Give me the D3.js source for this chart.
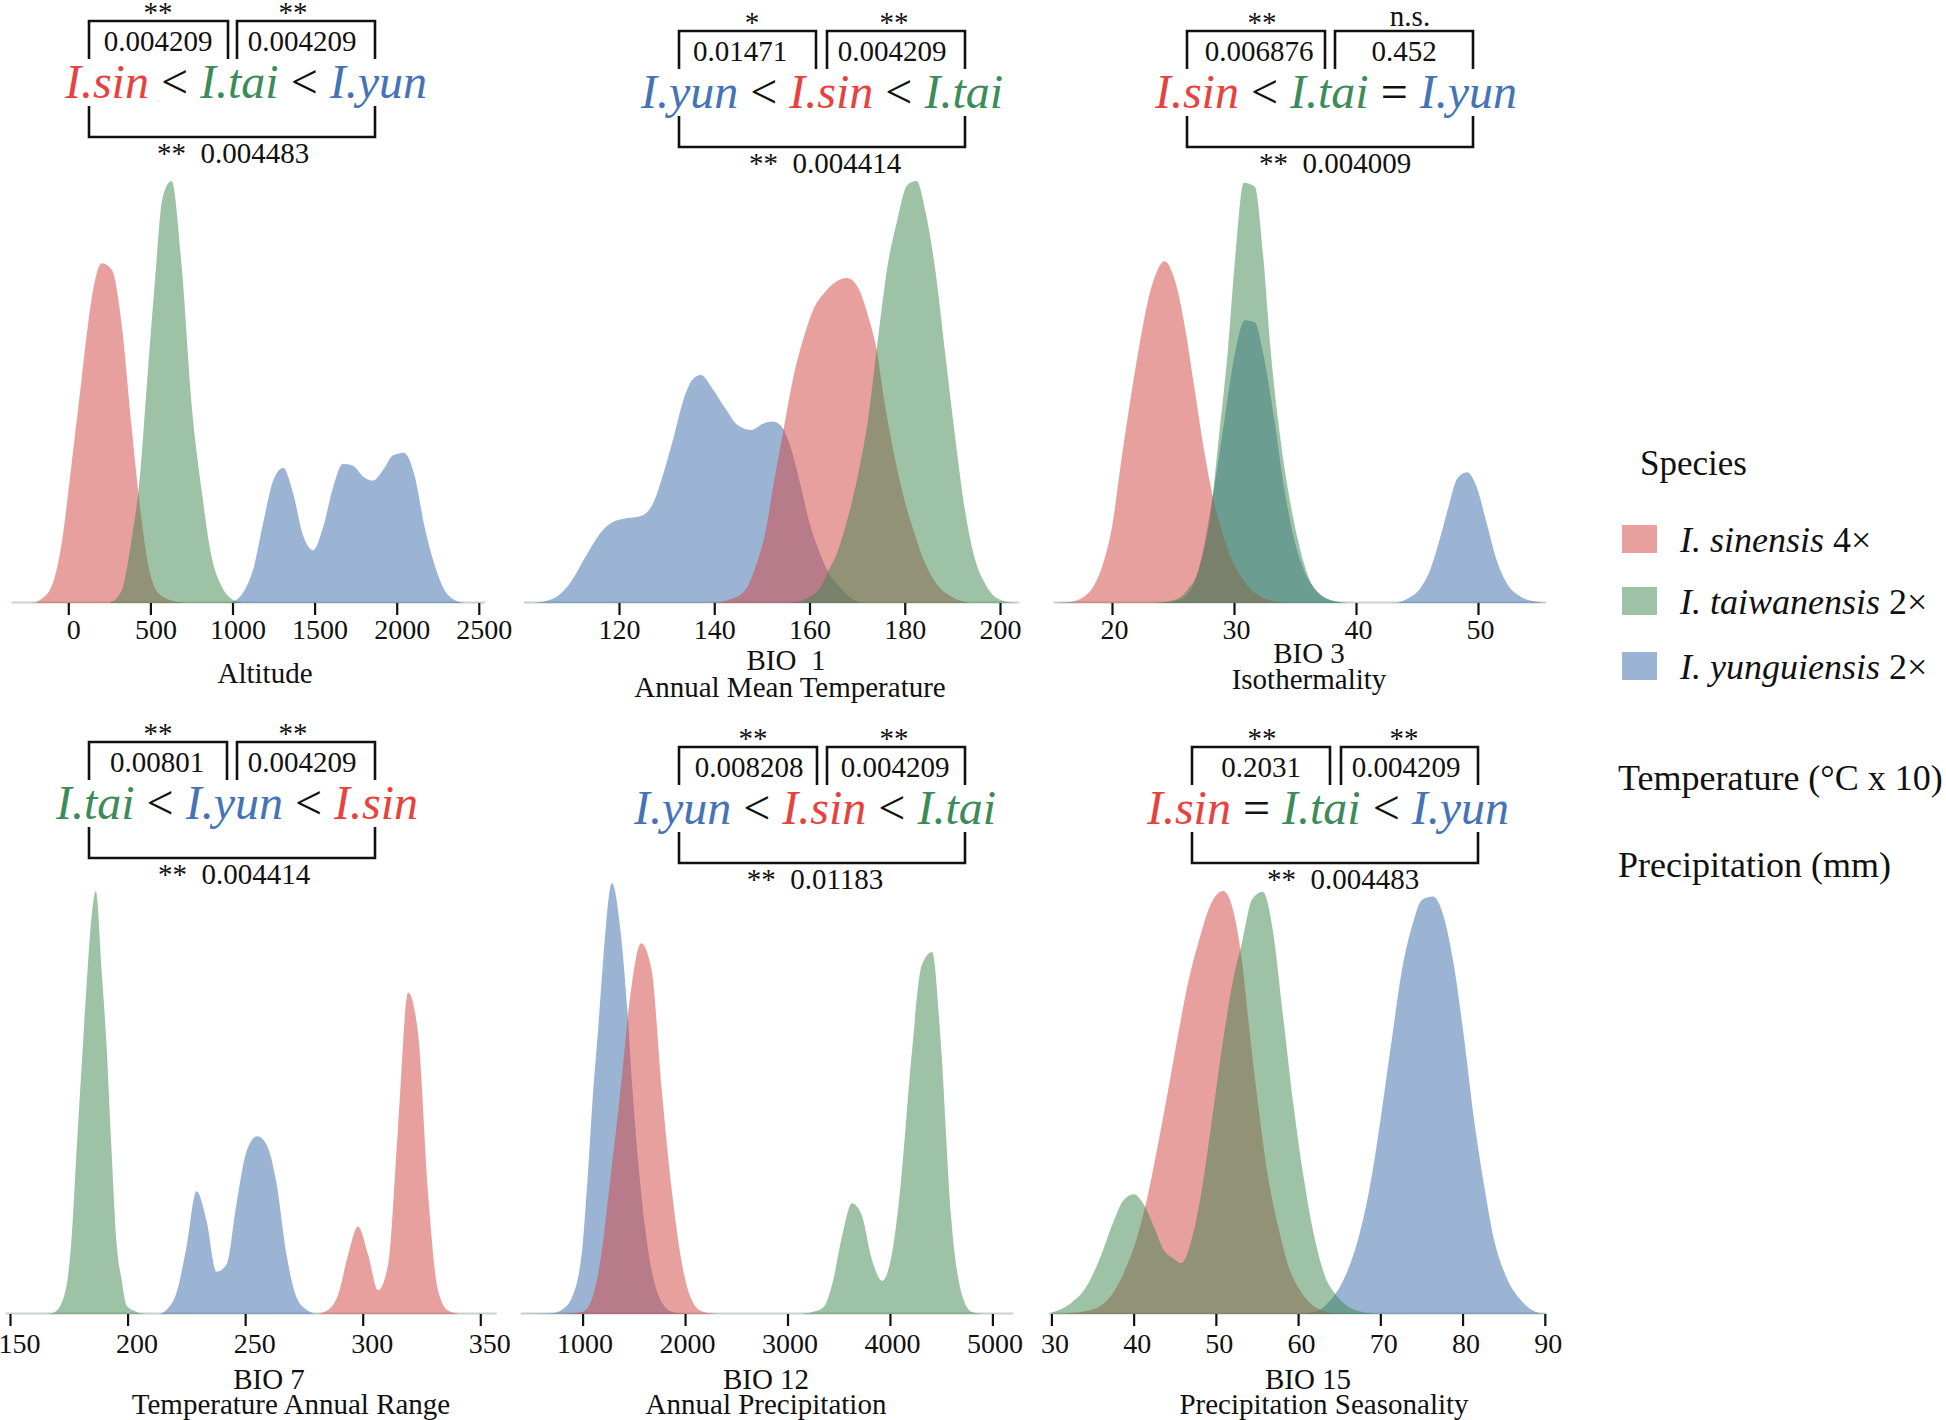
<!DOCTYPE html>
<html><head><meta charset="utf-8">
<script src="https://cdn.jsdelivr.net/npm/d3@7"></script>
<style>
html,body{margin:0;padding:0;background:#fff;}
svg text{font-family:"Liberation Serif","Times New Roman",serif;}
</style></head><body>
<svg id="chart" width="1946" height="1420" xmlns="http://www.w3.org/2000/svg"></svg>
<script>
// ---------------- DATA ----------------
const speciesAbbrev = {sin:"I.sin", tai:"I.tai", yun:"I.yun"};
const speciesKeys = ["sin","tai","yun"];
const speciesLegend = ["I. sinensis","I. taiwanensis","I. yunguiensis"];
const ploidy = ["4×","2×","2×"];
const fillColors = ["#D1413D","#3B854D","#3969A9"];
const textColors = ["#E8423F","#3D8B59","#4474B6"];

const panelTitles = [["Altitude"],["BIO  1","Annual Mean Temperature"],["BIO 3","Isothermality"],
  ["BIO 7","Temperature Annual Range"],["BIO 12","Annual Precipitation"],["BIO 15","Precipitation Seasonality"]];
const tickValues = [[0,500,1000,1500,2000,2500],[120,140,160,180,200],[20,30,40,50],
  [150,200,250,300,350],[1000,2000,3000,4000,5000],[30,40,50,60,70,80,90]];
const xExtent = [[-345,2538],[100,204],[15.2,55.6],[148,357],[395,5202],[29.7,90.2]];

// relative density (% of panel max), [value, height]
const altitudeSin = [[-345,0],[-223,0],[-162,1],[-101,4],[-41,14],[20,33],[81,53],[142,72],[203,80.5],[264,79],[325,66],[385,42],[436,23],[487,9],[558,2],[659,0.3],[720,0]];
const altitudeTai = [[254,0],[325,3],[385,15],[436,30],[477,51],[527,76],[574,96],[629,100],[690,80],[751,47],[811,27],[872,11],[933,4],[1004,0.7],[1065,0]];
const altitudeYun = [[984,0],[1065,2.5],[1126,8],[1187,19],[1248,29],[1308,32],[1369,26],[1430,16],[1491,12.5],[1552,18],[1613,27.5],[1673,33],[1734,32.5],[1795,30],[1856,29],[1917,31.5],[1978,35],[2043,35.6],[2110,30],[2170,18],[2231,9],[2292,3],[2353,0.7],[2414,0]];

const bio1Sin = [[139.5,0],[143.0,0.7],[146.5,3],[148.5,8],[150.6,16],[152.6,29],[154.7,42],[156.7,54],[158.8,63],[160.8,69.5],[163.5,74],[167.9,77],[170.3,74.5],[172.3,68],[174.1,60],[175.7,48],[177.8,35],[179.8,25],[181.9,17],[183.9,10.4],[186.7,4.5],[190.1,1.3],[193.5,0]];
const bio1Tai = [[156.0,0],[159.3,1],[162.7,4.5],[164.1,8],[165.5,11],[167.5,18],[170.3,31],[172.3,43.5],[174.1,60],[176.4,80],[178.5,91],[180.5,99],[182.5,100],[184.3,93],[186.4,79],[188.4,60],[190.5,40],[192.5,23],[194.6,11],[196.9,4.5],[199.6,1],[203.1,0]];
const bio1Yun = [[102.0,0],[106.1,1],[109.6,4.5],[113.0,11],[116.4,17],[118.4,19],[121.2,20],[124.6,20.6],[127.3,24],[129.4,31],[131.4,39],[133.5,48],[135.5,53],[137.2,54],[139.5,51],[142.4,46],[145.1,42],[147.8,41],[150.2,42.5],[152.2,43],[154.0,42],[156.0,37],[158.1,28],[160.0,19],[162.1,12],[164.1,7],[166.2,4],[168.9,1],[171.6,0]];

const bio3Sin = [[15.2,0],[16.6,0.3],[17.7,1.5],[18.5,4],[19.3,9.6],[20,18],[20.7,32.5],[21.5,48],[22.3,62],[22.9,71],[23.6,78],[24.3,81],[25.2,76],[26,65],[26.7,52],[27.5,37],[28.2,26],[29,17],[29.8,10.4],[30.8,5.3],[31.9,2],[33.3,0.4],[34.6,0]];
const bio3Tai = [[23.4,0],[25.1,0.7],[26.1,2.8],[27.2,8.7],[28.1,21.5],[28.7,37.6],[29.5,60],[30.1,82],[30.8,99.6],[31.7,98.7],[32.4,82],[33,60],[33.8,39],[34.6,24],[35.4,13],[36.2,5.5],[37.3,1.5],[38.5,0.3],[39.3,0]];
const bio3Yun = [[24.2,0],[25.6,0.8],[26.7,4.5],[27.5,13],[28.3,26],[29.2,43],[30,58],[30.9,67],[31.7,66.5],[32.4,59],[33.3,43.5],[34.1,27.4],[34.9,15.5],[35.7,8],[36.8,2.8],[37.9,0.7],[39.3,0],[43.1,0],[44.2,1],[45.3,3.6],[46.1,8],[46.9,15.5],[47.6,23],[48.3,29.5],[49.1,31],[49.9,27.4],[50.7,19],[51.5,10.4],[52.4,4.5],[53.5,1.5],[54.6,0.4],[55.4,0]];

const bio7Sin = [[280.3,0],[285.3,1],[289.5,4.5],[293.8,14],[298,20.7],[302.3,14],[306.5,5.6],[310.8,11.7],[315,44],[319.3,76],[323.5,66.5],[327.8,28.5],[332,5.6],[336.3,0.8],[341.2,0]];
const bio7Tai = [[165.6,0],[169.1,0.5],[173.4,5],[176.2,18],[178.3,38.5],[180.5,59],[182.6,78],[184.7,94],[186.5,100],[189,81],[191.1,63],[193.2,38.5],[195.3,17],[197.5,8],[199.6,2],[203.8,0.5],[208,0]];
const bio7Yun = [[213.7,0],[216.6,1],[220.8,5],[225.1,16],[229.3,29],[233.6,22],[237.8,10],[242.1,11.7],[246.3,26],[250.6,38.5],[255.2,42],[259.1,40],[263.3,31],[267.6,14],[271.8,4],[276.1,1],[280.3,0]];

const bio12Sin = [[798,0],[1000,0.5],[1084,3],[1168,11.5],[1269,31],[1370,52],[1471,75],[1571,86],[1672,80],[1773,52],[1874,28],[1975,11],[2076,2.7],[2176,0.5],[2311,0]];
const bio12Tai = [[3118,0],[3252,0.5],[3353,1.6],[3437,7],[3538,18.6],[3629,25.7],[3723,23],[3824,12.6],[3924,7.7],[4025,14.8],[4109,31],[4210,59.6],[4311,81],[4412,84],[4496,63],[4597,22.4],[4697,5],[4798,0.5],[4899,0]];
const bio12Yun = [[395,0],[697,0.2],[798,1],[899,4],[1000,16],[1050,32],[1101,51],[1151,66],[1202,82.5],[1286,100],[1370,89],[1437,70.5],[1487,52],[1538,36.6],[1605,21],[1672,10.4],[1773,2.7],[1874,0.5],[2008,0]];

const bio15Sin = [[30,0],[31.6,0.1],[34.9,1],[37,3.7],[38.7,9.3],[40.4,18],[41.6,27],[42.9,39.5],[44.2,53],[45.4,66],[46.7,79],[47.9,88],[49.4,97],[50.9,100],[52.1,95.5],[53.2,83],[54.2,65],[55.3,47],[56.3,33],[57.6,20.5],[58.8,11.5],[60.5,4.8],[62.2,1.5],[64.3,0.2],[66.3,0]];
const bio15Tai = [[30,0.3],[32.4,2.6],[34.1,6],[35.8,12.7],[37.5,21.6],[38.7,26.7],[40,28.3],[41.2,26],[42.5,20.5],[43.7,15],[44.8,13.2],[45.8,12],[47.1,18],[48.3,29.5],[49.6,47],[50.9,65],[52.1,79],[53.2,88],[54.4,98],[55.7,99.8],[56.9,91],[58.2,70],[59.4,50],[60.7,32],[62,18],[63.2,9.3],[64.5,4.8],[65.9,2],[67.6,0.6],[69.3,0]];
const bio15Yun = [[60.1,0],[62.2,0.6],[63.8,3],[65.5,8],[67.2,17],[68.9,32],[70.1,47],[71.4,65],[72.6,81],[73.9,92],[75.1,98],[76.4,98.7],[77.7,94],[78.9,83],[80.2,65],[81.4,46],[82.7,29.5],[83.9,17],[85.2,9.3],[86.9,3.7],[88.5,0.9],[90,0]];

// pairwise comparison annotations
const cmpOrder = [["sin","<","tai","<","yun"],["yun","<","sin","<","tai"],["sin","<","tai","=","yun"],
  ["tai","<","yun","<","sin"],["yun","<","sin","<","tai"],["sin","=","tai","<","yun"]];
const pLeft  = ["0.004209","0.01471","0.006876","0.00801","0.008208","0.2031"];
const pRight = ["0.004209","0.004209","0.452","0.004209","0.004209","0.004209"];
const pOuter = ["0.004483","0.004414","0.004009","0.004414","0.01183","0.004483"];
const sigLeft  = ["**","*","**","**","**","**"];
const sigRight = ["**","**","n.s.","**","**","**"];
const sigOuter = ["**","**","**","**","**","**"];

const legendNotes = ["Temperature (°C x 10)","Precipitation (mm)"];

// ---------------- LAYOUT ----------------
const densities = [
  [altitudeSin, altitudeTai, altitudeYun],
  [bio1Sin, bio1Tai, bio1Yun],
  [bio3Sin, bio3Tai, bio3Yun],
  [bio7Sin, bio7Tai, bio7Yun],
  [bio12Sin, bio12Tai, bio12Yun],
  [bio15Sin, bio15Tai, bio15Yun]
];
const FONT = '"Liberation Serif","Times New Roman",serif';
const layout = [
  {d:[0,2000], r:[68.3,396.7], base:603, top:181, lab:36, ldx:5,
   ann:{L:89,ML:228,MR:237,R:375,top:21,sL:158,sR:293,pL:158,pR:302,sp:246,out:233},
   tx:[265], ty:[683]},
  {d:[120,200], r:[619,1000], base:603, top:181, lab:36, ldx:0,
   ann:{L:679,ML:816,MR:827,R:965,top:31,sL:752,sR:894,pL:740,pR:892,sp:822,out:825},
   tx:[786,790], ty:[670,697]},
  {d:[20,50], r:[1112,1478], base:603, top:181, lab:36, ldx:2,
   ann:{L:1187,ML:1325,MR:1335,R:1473,top:31,sL:1262,sR:1410,pL:1259,pR:1404,sp:1336,out:1335},
   tx:[1309,1309], ty:[663,689]},
  {d:[150,350], r:[10,480.3], base:1314, top:891, lab:39, ldx:9,
   ann:{L:89,ML:227,MR:237,R:375,top:742,sL:158,sR:293,pL:157,pR:302,sp:237,out:234},
   tx:[269,291], ty:[1389,1414]},
  {d:[1000,5000], r:[582.6,992.4], base:1314, top:883, lab:39, ldx:2,
   ann:{L:679,ML:817,MR:827,R:965,top:747,sL:753,sR:894,pL:749,pR:895,sp:815,out:815},
   tx:[766,766], ty:[1389,1414]},
  {d:[30,90], r:[1051.4,1544.8], base:1314, top:891, lab:39, ldx:3,
   ann:{L:1192,ML:1330,MR:1341,R:1478,top:747,sL:1262,sR:1404,pL:1261,pR:1406,sp:1328,out:1343},
   tx:[1308,1324], ty:[1389,1414]}
];

const svg = d3.select("#chart");
const ink = "#111";
const drawOrder = [2,0,1]; // yun, sin, tai (tai on top)

layout.forEach((L, i) => {
  const x = d3.scaleLinear().domain(L.d).range(L.r);
  const y = d3.scaleLinear().domain([0,100]).range([L.base, L.top]);
  const g = svg.append("g");

  // faint baseline strip
  g.append("line").attr("x1", x(xExtent[i][0])).attr("x2", x(xExtent[i][1]))
    .attr("y1", L.base - 0.5).attr("y2", L.base - 0.5)
    .attr("stroke", "#c6d4cc").attr("stroke-width", 2);

  const area = d3.area().x(d => x(d[0])).y0(L.base).y1(d => y(d[1])).curve(d3.curveMonotoneX);
  drawOrder.forEach(k => {
    g.append("path").datum(densities[i][k]).attr("d", area)
      .attr("fill", fillColors[k]).attr("fill-opacity", 0.5);
  });

  // axis
  const axis = d3.axisBottom(x).tickValues(tickValues[i]).tickSize(12).tickFormat(d3.format("d"));
  const ag = svg.append("g").attr("transform", `translate(0,${L.base})`).call(axis);
  ag.attr("font-family", FONT).attr("font-size", 28);
  ag.select(".domain").remove();
  ag.selectAll(".tick line").attr("stroke", ink).attr("stroke-width", 2.2);
  ag.selectAll(".tick text").attr("y", L.lab).attr("dy", null).attr("dx", L.ldx)
    .attr("font-size", 28).attr("fill", ink).attr("font-family", FONT);

  // titles
  panelTitles[i].forEach((t, j) => {
    svg.append("text").attr("x", L.tx[j]).attr("y", L.ty[j]).attr("text-anchor", "middle")
      .attr("font-family", FONT).attr("font-size", 29).attr("fill", ink).style("white-space", "pre").text(t);
  });

  // annotation brackets
  const A = L.ann;
  const ag2 = svg.append("g").attr("fill", "none").attr("stroke", ink).attr("stroke-width", 2.6);
  ag2.append("path").attr("d", `M${A.L},${A.top+38}V${A.top}H${A.ML}V${A.top+38}`);
  ag2.append("path").attr("d", `M${A.MR},${A.top+38}V${A.top}H${A.R}V${A.top+38}`);
  ag2.append("path").attr("d", `M${A.L},${A.top+85}V${A.top+116}H${A.R}V${A.top+85}`);

  const txt = (xx, yy, s, size) => svg.append("text").attr("x", xx).attr("y", yy)
      .attr("text-anchor", "middle").attr("font-family", FONT).attr("font-size", size)
      .attr("fill", ink).style("white-space","pre").text(s);
  txt(A.sL, A.top + (sigLeft[i] === "n.s." ? -5 : 1), sigLeft[i], 29);
  txt(A.sR, A.top + (sigRight[i] === "n.s." ? -5 : 1), sigRight[i], 29);
  txt(A.pL, A.top + 30, pLeft[i], 29);
  txt(A.pR, A.top + 30, pRight[i], 29);
  txt(A.out, A.top + 142, sigOuter[i] + "  " + pOuter[i], 29);

  const st = svg.append("text").attr("x", A.sp).attr("y", A.top + 77).attr("text-anchor", "middle")
    .attr("font-family", FONT).attr("font-size", 48).style("white-space", "pre");
  cmpOrder[i].forEach(tok => {
    if (speciesAbbrev[tok]) {
      const k = speciesKeys.indexOf(tok);
      st.append("tspan").attr("font-style", "italic").attr("fill", textColors[k]).text(speciesAbbrev[tok]);
    } else {
      st.append("tspan").attr("fill", ink).text(" " + tok + " ");
    }
  });
});

// ---------------- LEGEND ----------------
svg.append("text").attr("x", 1640).attr("y", 475).attr("font-family", FONT).attr("font-size", 35).attr("fill", ink).text("Species");
const legY = [525, 587, 652];
const legBase = [552, 614, 679];
speciesLegend.forEach((name, k) => {
  svg.append("rect").attr("x", 1622).attr("y", legY[k]).attr("width", 35).attr("height", 28)
    .attr("fill", fillColors[k]).attr("fill-opacity", 0.5);
  const t = svg.append("text").attr("x", 1680).attr("y", legBase[k]).attr("font-family", FONT)
    .attr("font-size", 36).attr("fill", ink).style("white-space", "pre");
  t.append("tspan").attr("font-style", "italic").text(name);
  t.append("tspan").text(" " + ploidy[k]);
});
legendNotes.forEach((s, j) => {
  svg.append("text").attr("x", 1618).attr("y", [790, 877][j]).attr("font-family", FONT)
    .attr("font-size", 36).attr("fill", ink).text(s);
});
</script></body></html>
